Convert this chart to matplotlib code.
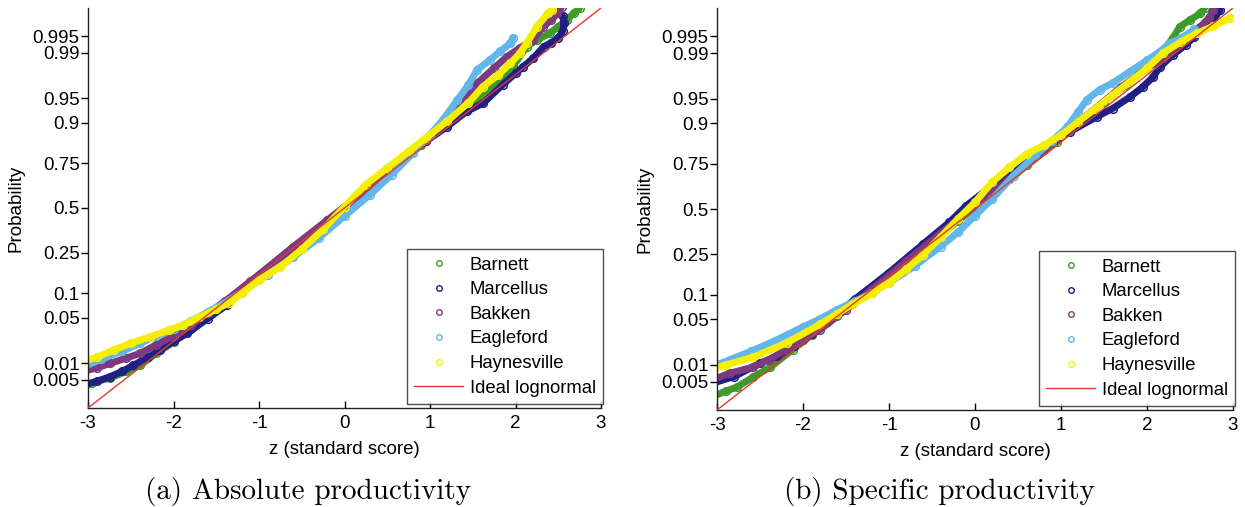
import matplotlib
matplotlib.use("Agg")
import matplotlib.pyplot as plt
from matplotlib.lines import Line2D
from statistics import NormalDist

# ---------------------------------------------------------------------------
# Normal probability plot data: standard score (z) of each play's productivity
# against the theoretical normal quantile of its plotting position.
# ---------------------------------------------------------------------------
plays = ["Barnett", "Marcellus", "Bakken", "Eagleford", "Haynesville"]
colors = ["#3f9a2c", "#1f1f86", "#7e3a80", "#63b6ea", "#f5ef00"]

prob_ticks = [0.005, 0.01, 0.05, 0.1, 0.25, 0.5, 0.75, 0.9, 0.95, 0.99, 0.995]
prob_labels = ["0.005", "0.01", "0.05", "0.1", "0.25", "0.5", "0.75", "0.9", "0.95", "0.99", "0.995"]
z_ticks = [-3, -2, -1, 0, 1, 2, 3]

# (a) absolute productivity
abs_barnett_z = [-3.05, -2.95, -2.74, -2.55, -2.39, -2.2, -2.0, -1.8, -1.6, -1.4, -1.1, -0.7, -0.3, 0.1, 0.5, 0.9, 1.2, 1.45, 1.62, 1.8, 1.97, 2.13, 2.25, 2.4, 2.5, 2.6, 2.68, 2.75]
abs_barnett_q = [-2.68, -2.62, -2.55, -2.45, -2.36, -2.18, -2.01, -1.82, -1.62, -1.42, -1.1, -0.7, -0.3, 0.12, 0.55, 0.95, 1.25, 1.5, 1.72, 1.92, 2.12, 2.42, 2.52, 2.62, 2.72, 2.82, 2.92, 3.0]

abs_marcellus_z = [-3.05, -2.9, -2.74, -2.6, -2.47, -2.3, -2.16, -2.0, -1.84, -1.6, -1.37, -1.0, -0.6, -0.2, 0.2, 0.6, 0.95, 1.2, 1.43, 1.62, 1.85, 2.0, 2.09, 2.21, 2.33, 2.42, 2.5, 2.55, 2.57, 2.55]
abs_marcellus_q = [-2.66, -2.6, -2.53, -2.45, -2.36, -2.24, -2.13, -2.0, -1.88, -1.66, -1.45, -1.02, -0.6, -0.2, 0.2, 0.62, 1.0, 1.22, 1.45, 1.57, 1.85, 2.02, 2.12, 2.25, 2.42, 2.48, 2.55, 2.65, 2.77, 2.88]

abs_bakken_z = [-3.05, -2.9, -2.74, -2.55, -2.39, -2.2, -2.0, -1.8, -1.6, -1.4, -1.0, -0.6, -0.2, 0.2, 0.6, 0.95, 1.2, 1.4, 1.55, 1.75, 1.9, 2.05, 2.21, 2.32, 2.42, 2.49, 2.54]
abs_bakken_q = [-2.45, -2.4, -2.33, -2.25, -2.18, -2.05, -1.92, -1.76, -1.58, -1.4, -1.0, -0.58, -0.18, 0.22, 0.65, 1.02, 1.3, 1.6, 1.87, 2.1, 2.27, 2.4, 2.52, 2.72, 2.82, 2.92, 3.02]

abs_eagleford_z = [-3.05, -2.85, -2.6, -2.39, -2.2, -2.0, -1.8, -1.6, -1.4, -1.2, -0.9, -0.6, -0.3, 0.0, 0.3, 0.55, 0.8, 1.0, 1.15, 1.32, 1.45, 1.55, 1.7, 1.82, 1.94, 1.97]
abs_eagleford_q = [-2.38, -2.27, -2.15, -2.03, -1.92, -1.82, -1.7, -1.56, -1.42, -1.26, -1.0, -0.74, -0.45, -0.12, 0.2, 0.5, 0.82, 1.1, 1.32, 1.62, 1.85, 2.07, 2.22, 2.35, 2.47, 2.55]

abs_haynesville_z = [-3.05, -2.9, -2.7, -2.5, -2.27, -2.05, -1.89, -1.7, -1.5, -1.35, -1.2, -1.0, -0.75, -0.5, -0.25, 0.0, 0.25, 0.5, 0.75, 0.95, 1.2, 1.45, 1.62, 1.8, 1.94, 2.05, 2.13, 2.25, 2.38, 2.43]
abs_haynesville_q = [-2.3, -2.24, -2.13, -2.03, -1.93, -1.83, -1.76, -1.64, -1.52, -1.42, -1.28, -1.08, -0.88, -0.62, -0.32, 0.02, 0.35, 0.6, 0.85, 1.05, 1.3, 1.58, 1.82, 2.0, 2.17, 2.32, 2.47, 2.72, 2.92, 2.97]

# (b) specific productivity
spec_barnett_z = [-3.05, -2.9, -2.77, -2.58, -2.38, -2.12, -1.9, -1.6, -1.3, -1.0, -0.6, -0.2, 0.2, 0.6, 0.95, 1.2, 1.5, 1.75, 2.0, 2.1, 2.19, 2.3, 2.38, 2.5, 2.62, 2.67]
spec_barnett_q = [-2.8, -2.72, -2.66, -2.51, -2.36, -2.1, -1.88, -1.6, -1.3, -1.0, -0.6, -0.18, 0.22, 0.65, 1.0, 1.3, 1.6, 1.85, 2.12, 2.25, 2.37, 2.55, 2.72, 2.82, 2.92, 3.0]

spec_marcellus_z = [-3.05, -2.8, -2.5, -2.3, -2.1, -1.9, -1.72, -1.4, -1.0, -0.6, -0.3, -0.1, 0.2, 0.5, 0.8, 1.1, 1.42, 1.6, 1.8, 1.95, 2.07, 2.15, 2.3, 2.45, 2.55, 2.62, 2.77, 2.85]
spec_marcellus_q = [-2.6, -2.5, -2.3, -2.2, -2.05, -1.87, -1.69, -1.35, -0.95, -0.52, -0.2, 0.05, 0.35, 0.6, 0.9, 1.15, 1.38, 1.5, 1.67, 1.82, 1.97, 2.12, 2.3, 2.45, 2.57, 2.67, 2.82, 2.97]

spec_bakken_z = [-3.05, -2.85, -2.58, -2.4, -2.19, -2.0, -1.8, -1.5, -1.2, -0.8, -0.4, 0.0, 0.4, 0.8, 1.1, 1.4, 1.7, 2.0, 2.19, 2.38, 2.5, 2.62, 2.72, 2.77]
spec_bakken_q = [-2.55, -2.45, -2.36, -2.25, -2.1, -1.95, -1.8, -1.5, -1.2, -0.78, -0.36, 0.05, 0.45, 0.88, 1.2, 1.5, 1.82, 2.1, 2.25, 2.47, 2.58, 2.72, 2.85, 2.97]

spec_eagleford_z = [-3.05, -2.85, -2.6, -2.35, -2.0, -1.8, -1.6, -1.4, -1.2, -1.0, -0.7, -0.4, -0.2, 0.0, 0.2, 0.45, 0.7, 0.9, 1.07, 1.2, 1.3, 1.45, 1.6, 1.8, 2.0, 2.15, 2.27, 2.4, 2.55]
spec_eagleford_q = [-2.35, -2.25, -2.12, -1.98, -1.76, -1.64, -1.5, -1.38, -1.26, -1.1, -0.85, -0.56, -0.35, -0.1, 0.15, 0.5, 0.8, 1.02, 1.22, 1.45, 1.63, 1.78, 1.88, 2.05, 2.22, 2.35, 2.48, 2.55, 2.68]

spec_haynesville_z = [-3.05, -2.9, -2.58, -2.19, -1.8, -1.6, -1.42, -1.2, -1.0, -0.8, -0.6, -0.4, -0.2, 0.0, 0.2, 0.4, 0.6, 0.8, 1.0, 1.2, 1.4, 1.6, 1.8, 2.0, 2.19, 2.4, 2.58, 2.77, 2.97]
spec_haynesville_q = [-2.38, -2.33, -2.21, -2.0, -1.72, -1.56, -1.42, -1.26, -1.1, -0.9, -0.68, -0.42, -0.15, 0.1, 0.4, 0.62, 0.82, 0.95, 1.1, 1.3, 1.5, 1.7, 1.9, 2.1, 2.33, 2.5, 2.62, 2.73, 2.85]

panels = [
    {
        "rect": [88 / 1245, 1 - 408 / 507, 513 / 1245, 400 / 507],
        "caption": "(a) Absolute productivity",
        "caption_x": 308 / 1245,
        "series": [
            (abs_barnett_z, abs_barnett_q),
            (abs_marcellus_z, abs_marcellus_q),
            (abs_bakken_z, abs_bakken_q),
            (abs_eagleford_z, abs_eagleford_q),
            (abs_haynesville_z, abs_haynesville_q),
        ],
    },
    {
        "rect": [717 / 1245, 1 - 410 / 507, 516 / 1245, 402 / 507],
        "caption": "(b) Specific productivity",
        "caption_x": 939 / 1245,
        "series": [
            (spec_barnett_z, spec_barnett_q),
            (spec_marcellus_z, spec_marcellus_q),
            (spec_bakken_z, spec_bakken_q),
            (spec_eagleford_z, spec_eagleford_q),
            (spec_haynesville_z, spec_haynesville_q),
        ],
    },
]

SANS = ["Liberation Sans", "DejaVu Sans"]
TICK_FS = 13.5
std_normal = NormalDist()
prob_tick_pos = [std_normal.inv_cdf(p) for p in prob_ticks]

fig = plt.figure(figsize=(12.45, 5.07), dpi=100)

for panel in panels:
    ax = fig.add_axes(panel["rect"])
    for (z, q), color in zip(panel["series"], colors):
        ax.plot(z, q, color=color, lw=5.0, marker="o", ms=5.5, mfc="none",
                mec=color, mew=1.1, solid_capstyle="round", zorder=2)
    # reference line of a perfectly lognormal sample
    ax.plot(z_ticks, z_ticks, color="#e23a2e", lw=1.0, zorder=3)

    ax.set_xlim(-3, 3)
    ax.set_ylim(-3, 3)
    ax.set_xticks(z_ticks)
    ax.set_xticklabels([str(t) for t in z_ticks], family=SANS, fontsize=TICK_FS)
    ax.set_yticks(prob_tick_pos)
    ax.set_yticklabels(prob_labels, family=SANS, fontsize=TICK_FS)
    ax.tick_params(axis="x", direction="in", length=5, width=1, pad=5)
    ax.tick_params(axis="y", direction="out", length=5, width=1, pad=1)
    for side in ("top", "right"):
        ax.spines[side].set_visible(False)
    for side in ("left", "bottom"):
        ax.spines[side].set_linewidth(1.0)
        ax.spines[side].set_color("#222222")

    ax.set_xlabel("z (standard score)", family=SANS, fontsize=TICK_FS)
    ax.xaxis.set_label_coords(0.5, -0.082)
    ax.set_ylabel("Probability", family=SANS, fontsize=TICK_FS)
    ax.yaxis.set_label_coords(-0.123, 0.5)

    handles = [Line2D([], [], ls="none", marker="o", ms=4, mfc="none", mec=c, mew=1.0)
               for c in colors]
    handles.append(Line2D([], [], color="#e23a2e", lw=1.0))
    leg = ax.legend(handles, plays + ["Ideal lognormal"], loc="lower right",
                    bbox_to_anchor=(1.004, 0.01), borderaxespad=0,
                    prop={"family": SANS, "size": 13.3}, frameon=True, fancybox=False,
                    edgecolor="#222222", handlelength=2.65, handletextpad=0.35,
                    labelspacing=0.41, borderpad=0.4)
    leg.get_frame().set_linewidth(1.0)

    fig.text(panel["caption_x"], 1 - 491 / 507, panel["caption"], family="cmr10",
             fontsize=21, ha="center", va="center")

fig.savefig("out.png", dpi=100, facecolor="white")
